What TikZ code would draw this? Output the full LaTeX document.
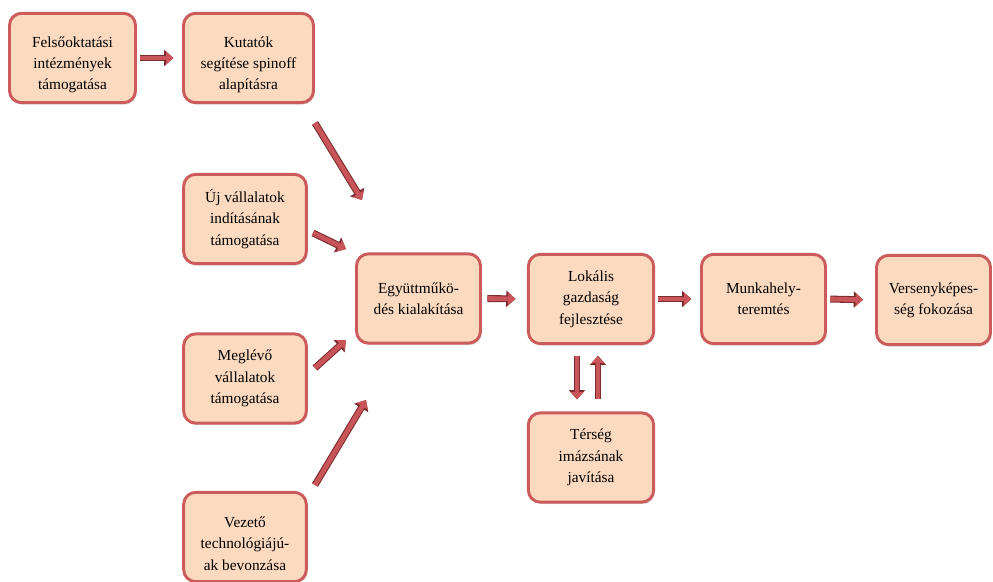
\documentclass[tikz,border=0pt]{standalone}
\usepackage{fontspec}
\setmainfont{Liberation Serif}
\usetikzlibrary{arrows.meta,shadows}
\definecolor{boxfill}{HTML}{FBDAC0}
\definecolor{boxline}{HTML}{CC5C5C}
\definecolor{arrfill}{HTML}{C9555A}
\definecolor{arrline}{HTML}{7A2C2E}
\newcommand{\boxstrut}{\rule{0pt}{18pt}}
\tikzset{
  box/.style={draw=boxline, line width=2.2pt, fill=boxfill, rounded corners=9pt,
    minimum height=67pt, align=center, inner sep=2pt,
    font=\fontsize{11.5}{16}\selectfont,
    drop shadow={shadow xshift=1pt, shadow yshift=-1.5pt, fill=black!22, opacity=0.6}},
  barrow/.style={-{Triangle[length=5.5pt,width=9.5pt]}, line width=3.6pt, draw=arrfill,
    preaction={draw=arrline, line width=5.2pt, -{Triangle[length=7pt,width=12pt]}}}
}
\begin{document}
\begin{tikzpicture}[x=0.75pt,y=-0.75pt]
\useasboundingbox (0,0) rectangle (993,582);
% boxes
\node[box, minimum width=94.5pt] (fel) at (72.5,58) {\boxstrut Felsőoktatási\\intézmények\\támogatása};
\node[box, minimum width=97.5pt] (kut) at (248.5,58) {\boxstrut Kutatók\\segítése spinoff\\alapításra};
\node[box, minimum width=92pt] (uj) at (245,219) {Új vállalatok\\indításának\\támogatása};
\node[box, minimum width=92pt] (meg) at (245,378.5) {Meglévő\\vállalatok\\támogatása};
\node[box, minimum width=92pt] (vez) at (245,537) {\boxstrut Vezető\\technológiájú-\\ak bevonzása};
\node[box, minimum width=93pt] (egy) at (418.5,298.5) {Együttműkö-\\dés kialakítása};
\node[box, minimum width=94pt] (lok) at (591,299) {Lokális\\gazdaság\\fejlesztése};
\node[box, minimum width=93pt] (mun) at (763.5,299) {Munkahely-\\teremtés};
\node[box, minimum width=85.5pt] (ver) at (933.5,300) {Versenyképes-\\ség fokozása};
\node[box, minimum width=94pt] (ter) at (591,457.5) {Térség\\imázsának\\javítása};
% free connector ends
\coordinate (k1) at (315,123);
\coordinate (k2) at (362,200);
\coordinate (u1) at (313,233);
\coordinate (u2) at (346,249);
\coordinate (m1) at (315,368);
\coordinate (m2) at (346,340);
\coordinate (v1) at (315,485);
\coordinate (v2) at (366,400);
% connectors
\draw[barrow, shorten <=2.5pt, shorten >=6.5pt] (fel.east) -- (kut.west);
\draw[barrow] (k1) -- (k2);
\draw[barrow] (u1) -- (u2);
\draw[barrow] (m1) -- (m2);
\draw[barrow] (v1) -- (v2);
\draw[barrow, shorten <=4pt, shorten >=8.5pt] (egy.east) -- (lok.west);
\draw[barrow, shorten <=2pt, shorten >=6.5pt] (lok.east) -- (mun.west);
\draw[barrow, shorten <=2.5pt, shorten >=9pt] (mun.east) -- (ver.west);
\draw[barrow, shorten <=8pt, shorten >=9pt] ([xshift=-10.5pt]lok.south) -- ([xshift=-10.5pt]ter.north);
\draw[barrow, shorten <=9pt, shorten >=8pt] ([xshift=5.25pt]ter.north) -- ([xshift=5.25pt]lok.south);
\end{tikzpicture}
\end{document}
